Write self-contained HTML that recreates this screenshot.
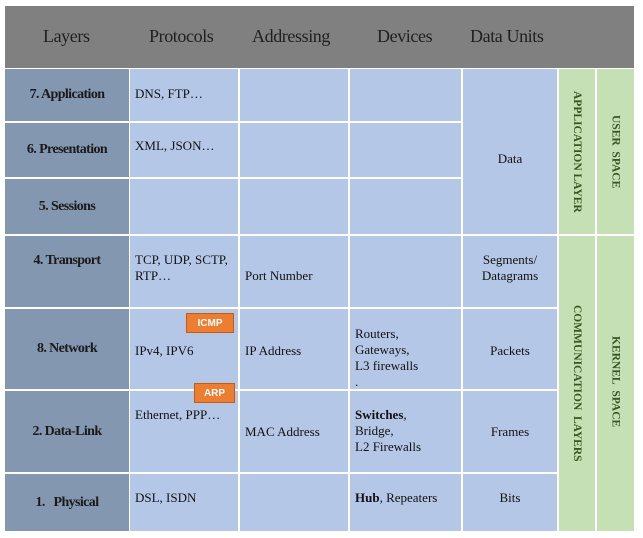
<!DOCTYPE html>
<html><head><style>
body{margin:0;width:643px;height:538px;background:#fff;position:relative;overflow:hidden;font-family:"Liberation Serif",serif;}
div{position:absolute;box-sizing:border-box;}
.h{background:#808080;}
.ht{color:#202020;font-size:18px;top:26px;letter-spacing:-0.4px}
.l{background:#8497b0;color:#1a1a1a;font-weight:bold;font-size:14px;display:flex;align-items:center;justify-content:center;letter-spacing:-0.6px}
.c{background:#b4c7e7;color:#111;font-size:13px;line-height:16px;}
.g{background:#c5e0b4;color:#375623;font-weight:bold;font-size:11.5px;display:flex;align-items:center;justify-content:center;}
.v{writing-mode:vertical-rl;white-space:nowrap;}
.o{background:#ed7d31;border:1px solid #c55a11;color:#fff;font-family:"Liberation Sans",sans-serif;font-weight:bold;font-size:10px;display:flex;align-items:center;justify-content:center;}
</style></head><body>
<div class="h" style="left:5px;top:6px;width:629px;height:62px"></div>
<div class="ht" style="left:43px">Layers</div>
<div class="ht" style="left:149px">Protocols</div>
<div class="ht" style="left:252px">Addressing</div>
<div class="ht" style="left:377px">Devices</div>
<div class="ht" style="left:470px">Data Units</div>

<div class="l" style="left:5px;top:69px;width:124px;height:52px">7. Application</div>
<div class="l" style="left:5px;top:123px;width:124px;height:54px">6. Presentation</div>
<div class="l" style="left:5px;top:179px;width:124px;height:55px">5. Sessions</div>
<div class="l" style="left:5px;top:236px;width:124px;height:71px;align-items:flex-start;padding-top:17px">4. Transport</div>
<div class="l" style="left:5px;top:309px;width:124px;height:80px">8. Network</div>
<div class="l" style="left:5px;top:391px;width:124px;height:81px">2. Data-Link</div>
<div class="l" style="left:5px;top:474px;width:124px;height:57px">1.&nbsp;&nbsp; Physical</div>

<div class="c" style="left:130px;top:69px;width:108px;height:52px;padding:17px 0 0 5px">DNS, FTP…</div>
<div class="c" style="left:130px;top:123px;width:108px;height:54px;padding:15px 0 0 5px">XML, JSON…</div>
<div class="c" style="left:130px;top:179px;width:108px;height:55px"></div>
<div class="c" style="left:130px;top:236px;width:108px;height:71px;padding:16px 0 0 5px">TCP, UDP, SCTP,<br>RTP…</div>
<div class="c" style="left:130px;top:309px;width:108px;height:80px;padding:34px 0 0 5px">IPv4, IPV6</div>
<div class="c" style="left:130px;top:391px;width:108px;height:81px;padding:16px 0 0 5px">Ethernet, PPP…</div>
<div class="c" style="left:130px;top:474px;width:108px;height:57px;padding:16px 0 0 5px">DSL, ISDN</div>

<div class="c" style="left:240px;top:69px;width:108px;height:52px"></div>
<div class="c" style="left:240px;top:123px;width:108px;height:54px"></div>
<div class="c" style="left:240px;top:179px;width:108px;height:55px"></div>
<div class="c" style="left:240px;top:236px;width:108px;height:71px;padding:32px 0 0 5px">Port Number</div>
<div class="c" style="left:240px;top:309px;width:108px;height:80px;padding:34px 0 0 5px">IP Address</div>
<div class="c" style="left:240px;top:391px;width:108px;height:81px;padding:33px 0 0 5px">MAC Address</div>
<div class="c" style="left:240px;top:474px;width:108px;height:57px"></div>

<div class="c" style="left:350px;top:69px;width:111px;height:52px"></div>
<div class="c" style="left:350px;top:123px;width:111px;height:54px"></div>
<div class="c" style="left:350px;top:179px;width:111px;height:55px"></div>
<div class="c" style="left:350px;top:236px;width:111px;height:71px"></div>
<div class="c" style="left:350px;top:309px;width:111px;height:80px;padding:17px 0 0 5px">Routers,<br>Gateways,<br>L3 firewalls<br>.</div>
<div class="c" style="left:350px;top:391px;width:111px;height:81px;padding:16px 0 0 5px"><b>Switches</b>,<br>Bridge,<br>L2 Firewalls</div>
<div class="c" style="left:350px;top:474px;width:111px;height:57px;padding:16px 0 0 5px"><b>Hub</b>, Repeaters</div>

<div class="c" style="left:463px;top:69px;width:94px;height:165px;text-align:center;padding-top:82px">Data</div>
<div class="c" style="left:463px;top:236px;width:94px;height:71px;text-align:center;padding-top:16px">Segments/<br>Datagrams</div>
<div class="c" style="left:463px;top:309px;width:94px;height:80px;text-align:center;padding-top:34px">Packets</div>
<div class="c" style="left:463px;top:391px;width:94px;height:81px;text-align:center;padding-top:33px">Frames</div>
<div class="c" style="left:463px;top:474px;width:94px;height:57px;text-align:center;padding-top:16px">Bits</div>

<div class="g" style="left:559px;top:69px;width:36px;height:165px"><span class="v">APPLICATION LAYER</span></div>
<div class="g" style="left:597px;top:69px;width:37px;height:165px"><span class="v">USER&nbsp; SPACE</span></div>
<div class="g" style="left:559px;top:236px;width:36px;height:295px"><span class="v">COMMUNICATION&nbsp; LAYERS</span></div>
<div class="g" style="left:597px;top:236px;width:37px;height:295px;align-items:flex-start;padding-top:100px"><span class="v">KERNEL&nbsp; SPACE</span></div>

<div class="o" style="left:186px;top:313px;width:48px;height:20px">ICMP</div>
<div class="o" style="left:194px;top:383px;width:41px;height:20px">ARP</div>
</body></html>
